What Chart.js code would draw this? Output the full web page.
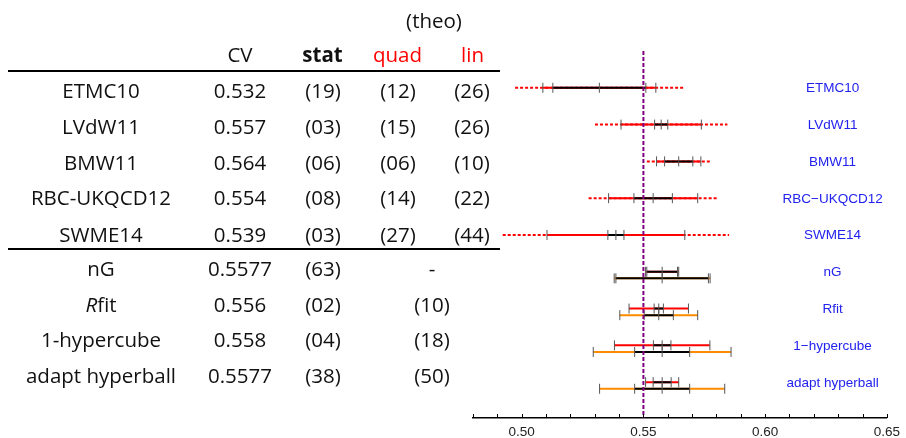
<!DOCTYPE html>
<html>
<head>
<meta charset="utf-8">
<script src="https://cdn.jsdelivr.net/npm/chart.js@4.4.0/dist/chart.umd.min.js"></script>
<style>
  body { margin: 0; background: #fff; }
  #wrap { position: relative; width: 906px; height: 438px; overflow: hidden; }
  #chart { position: absolute; left: 0; top: 0; }
  .cell { position: absolute; transform: translate(-50%, -50%); white-space: nowrap;
          font-family: "Open Sans"; font-size: 20.5px; line-height: 1; color: #111; }
  .rule { position: absolute; left: 8px; width: 492px; height: 2px; background: #000; }
</style>
</head>
<body>
<div id="wrap">
  <canvas id="chart" width="906" height="438"></canvas>
  <div id="table"></div>
</div>
<script>
// table text
const names = ['ETMC10', 'LVdW11', 'BMW11', 'RBC-UKQCD12', 'SWME14', 'nG', '<i>R</i>fit', '1-hypercube', 'adapt hyperball'];
const cvValues = ['0.532', '0.557', '0.564', '0.554', '0.539', '0.5577', '0.556', '0.558', '0.5577'];
const statErr = ['(19)', '(03)', '(06)', '(08)', '(03)', '(63)', '(02)', '(04)', '(38)'];
const quadErr = ['(12)', '(15)', '(06)', '(14)', '(27)'];
const linErr = ['(26)', '(26)', '(10)', '(22)', '(44)'];
const theoErr = ['-', '(10)', '(18)', '(50)'];

// labels next to the plot
const plotLabels = ['ETMC10', 'LVdW11', 'BMW11', 'RBC\u2212UKQCD12', 'SWME14', 'nG', 'Rfit', '1\u2212hypercube', 'adapt hyperball'];

// lattice results: centre, half widths of stat, stat+quad, stat+lin bars
const latCenter = [0.5319, 0.5573, 0.5645, 0.5540, 0.5387];
const latStat = [0.0191, 0.0027, 0.0058, 0.0079, 0.0033];
const latQuad = [0.0232, 0.0165, 0.0091, 0.0183, 0.0283];
const latLin = [0.0346, 0.0272, 0.0131, 0.0265, 0.0465];

// averages: centre, 1 sigma stat / total, 3 sigma stat / total
const avgCenter = [0.5577, 0.5563, 0.5577, 0.5577];
const avgStat1 = [0.0063, 0.0019, 0.0036, 0.0037];
const avgTot1 = [0.0068, 0.0122, 0.0196, 0.0068];
const avgStat3 = [0.0190, 0.0060, 0.0113, 0.0113];
const avgTot3 = [0.0197, 0.0160, 0.0283, 0.0257];

const xTicks = [0.48, 0.49, 0.50, 0.51, 0.52, 0.53, 0.54, 0.55, 0.56, 0.57, 0.58, 0.59, 0.60, 0.61, 0.62, 0.63, 0.64, 0.65];
const xTickLabels = ['0.50', '0.55', '0.60', '0.65'];
const refValue = 0.55;

// ---- table ----
const table = document.getElementById('table');
function cell(html, x, y, style) {
  const d = document.createElement('div');
  d.className = 'cell';
  d.innerHTML = html;
  d.style.left = x + 'px';
  d.style.top = y + 'px';
  if (style) d.style.cssText += style;
  table.appendChild(d);
}
function rule(y) {
  const d = document.createElement('div');
  d.className = 'rule';
  d.style.top = y + 'px';
  table.appendChild(d);
}
const rowY = [90.3, 125.7, 161.5, 197, 233.5, 267.5, 303.5, 339, 375];
cell('(theo)', 434, 19.5);
cell('CV', 240, 54);
cell('stat', 322.5, 54, 'font-weight:bold;');
cell('quad', 397.5, 54, 'color:#ff0000;');
cell('lin', 472.5, 54, 'color:#ff0000;');
rule(70);
rule(247.5);
names.forEach((n, i) => {
  cell(n, 101, rowY[i]);
  cell(cvValues[i], 240, rowY[i]);
  cell(statErr[i], 323, rowY[i]);
  if (i < 5) {
    cell(quadErr[i], 398, rowY[i]);
    cell(linErr[i], 472, rowY[i]);
  } else {
    cell(theoErr[i - 5], 432, rowY[i]);
  }
});

// ---- plot ----
const lowerShift = 0.18;
function bars(centers, halves, rowOffset, shift) {
  const pts = [];
  centers.forEach((c, i) => {
    const y = rowOffset + i + shift;
    pts.push({x: c - halves[i], y: y}, {x: c + halves[i], y: y}, {x: null, y: null});
  });
  return pts;
}
function ticks(centers, halfLists, rowOffset, shift) {
  const pts = [];
  centers.forEach((c, i) => {
    const y = rowOffset + i + shift;
    pts.push({x: c, y: y});
    halfLists.forEach(h => pts.push({x: c - h[i], y: y}, {x: c + h[i], y: y}));
  });
  return pts;
}
function lineSet(data, color, dash) {
  return {
    type: 'scatter', data: data, showLine: true, spanGaps: false,
    borderColor: color, borderWidth: 2, borderDash: dash || [], borderCapStyle: 'butt',
    pointRadius: 0, fill: false
  };
}

const yMin = -1.0, yMax = 8.975;
const tickPts = ticks(latCenter, [latStat, latQuad], 0, 0)
  .concat(ticks(avgCenter, [avgStat1, avgTot1], 5, 0))
  .concat(ticks(avgCenter, [avgStat3, avgTot3], 5, lowerShift));

const extras = {
  id: 'extras',
  afterDraw(chart) {
    const {ctx, scales: {x, y}} = chart;
    ctx.save();
    ctx.fillStyle = '#2222ee';
    ctx.font = '13.5px "Liberation Sans"';
    ctx.textAlign = 'center';
    ctx.textBaseline = 'middle';
    plotLabels.forEach((t, i) => ctx.fillText(t, x.getPixelForValue(0.6277), y.getPixelForValue(i) + 0.8));
    ctx.strokeStyle = '#000';
    ctx.lineWidth = 1;
    x.ticks.forEach(t => {
      const px = Math.round(x.getPixelForValue(t.value)) + 0.5;
      ctx.beginPath();
      ctx.moveTo(px, x.top);
      ctx.lineTo(px, x.top - 4);
      ctx.stroke();
    });
    ctx.restore();
  }
};

new Chart(document.getElementById('chart'), {
  type: 'scatter',
  data: {
    datasets: [
      lineSet([{x: refValue, y: yMin}, {x: refValue, y: yMax}], 'rgb(128,0,128)', [4, 2]),
      {
        type: 'scatter', data: tickPts, showLine: false,
        pointStyle: 'line', rotation: 90, pointRadius: 5,
        borderColor: '#555', pointBorderColor: '#555', borderWidth: 1, pointBorderWidth: 1
      },
      lineSet(bars(latCenter, latStat, 0, 0), '#000'),
      lineSet(bars(avgCenter, avgStat1, 5, 0), '#000'),
      lineSet(bars(avgCenter, avgStat3, 5, lowerShift), '#000'),
      lineSet(bars(latCenter, latQuad, 0, 0), '#ff0000'),
      lineSet(bars(avgCenter, avgTot1, 5, 0), '#ff0000'),
      lineSet(bars(avgCenter, avgTot3, 5, lowerShift), '#ff8c00'),
      lineSet(bars(latCenter, latLin, 0, 0), '#ff0000', [3, 2])
    ]
  },
  options: {
    responsive: false,
    animation: false,
    events: [],
    layout: {padding: {left: 473, right: 16, top: 51, bottom: 0}},
    plugins: {legend: {display: false}, tooltip: {enabled: false}},
    scales: {
      x: {
        type: 'linear', min: 0.48, max: 0.65,
        afterBuildTicks: s => { s.ticks = xTicks.map(v => ({value: v})); },
        afterFit: s => { s.height = 20; },
        grid: {display: false, drawTicks: false},
        border: {display: true, color: '#000', width: 1.5},
        ticks: {
          autoSkip: false, maxRotation: 0, padding: 6, color: '#222',
          font: {family: 'Liberation Sans', size: 13.5},
          callback: v => { const s = Number(v).toFixed(2); return xTickLabels.includes(s) ? s : ''; }
        }
      },
      y: {type: 'linear', display: false, reverse: true, min: yMin, max: yMax}
    }
  },
  plugins: [extras]
});
</script>
</body>
</html>
